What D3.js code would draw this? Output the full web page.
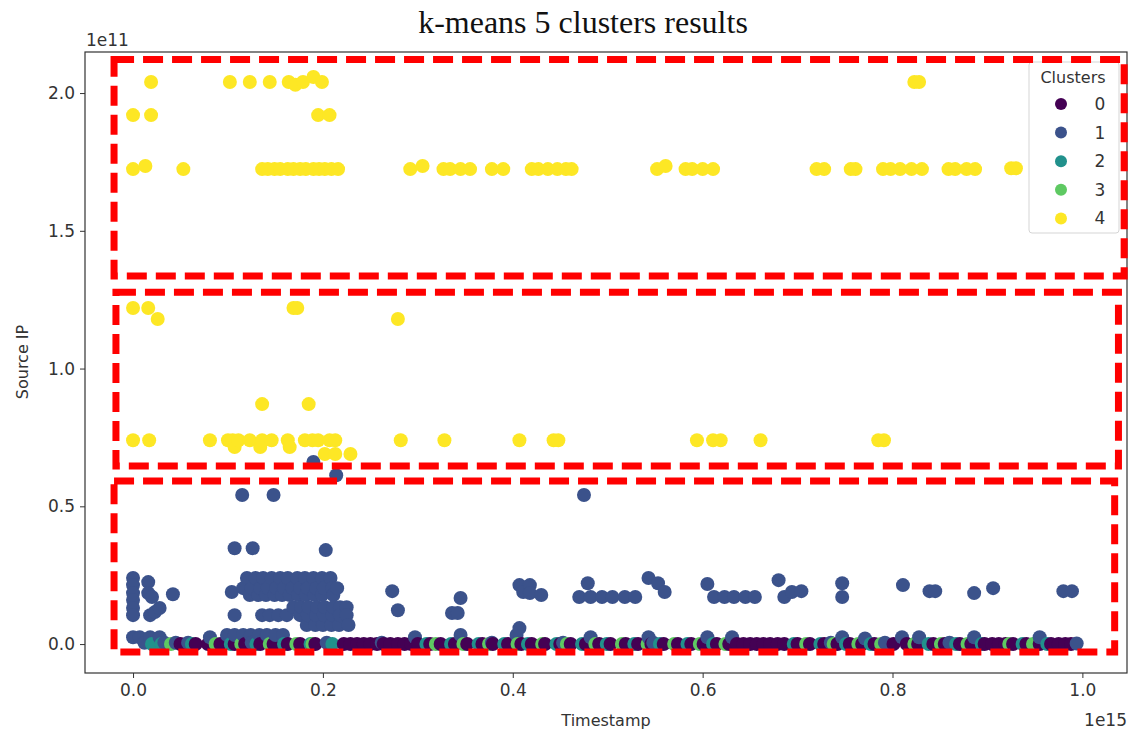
<!DOCTYPE html>
<html><head><meta charset="utf-8">
<script src="https://cdn.jsdelivr.net/npm/d3@7"></script>
<style>
body{margin:0;background:#fff;}
</style></head>
<body><svg id="chart" width="1131" height="739" font-family="DejaVu Sans, sans-serif"></svg>
<script>
// ---- data (x in units of 1e15, y in units of 1e11) ----
const clusterIds = [0, 1, 2, 3, 4];
const clusterColors = ["#440154", "#3b528b", "#21918c", "#5ec962", "#fde725"];
const xTicks = [0.0, 0.2, 0.4, 0.6, 0.8, 1.0];
const yTicks = [0.0, 0.5, 1.0, 1.5, 2.0];

const cluster4 = [
  [0.019,2.04],[0.102,2.04],[0.123,2.04],[0.144,2.04],[0.164,2.04],[0.171,2.03],[0.179,2.04],[0.19,2.058],[0.199,2.04],[0.823,2.04],[0.828,2.04],
  [0.0,1.92],[0.019,1.92],[0.195,1.92],[0.207,1.92],
  [0.0,1.724],[0.013,1.735],[0.053,1.724],[0.136,1.724],[0.142,1.724],[0.149,1.724],[0.155,1.724],[0.163,1.724],[0.169,1.724],[0.176,1.724],[0.182,1.724],[0.19,1.724],[0.196,1.724],[0.202,1.724],[0.209,1.724],[0.216,1.724],
  [0.292,1.724],[0.305,1.735],[0.327,1.724],[0.334,1.724],[0.345,1.724],[0.355,1.724],[0.378,1.724],[0.39,1.724],
  [0.42,1.724],[0.427,1.724],[0.437,1.724],[0.447,1.724],[0.456,1.724],[0.462,1.724],[0.552,1.724],[0.561,1.735],
  [0.582,1.724],[0.589,1.724],[0.6,1.724],[0.611,1.724],[0.72,1.724],[0.728,1.724],[0.756,1.724],[0.761,1.724],
  [0.79,1.724],[0.798,1.724],[0.808,1.724],[0.82,1.724],[0.831,1.724],[0.859,1.724],[0.866,1.724],[0.878,1.724],[0.887,1.724],[0.925,1.727],[0.93,1.727],
  [0.0,1.22],[0.016,1.22],[0.169,1.22],[0.173,1.22],[0.026,1.18],[0.279,1.18],
  [0.136,0.871],[0.185,0.871],
  [0.0,0.74],[0.017,0.74],[0.081,0.74],[0.1,0.74],[0.105,0.74],[0.111,0.74],[0.123,0.74],[0.136,0.74],[0.146,0.74],[0.163,0.74],[0.181,0.74],[0.189,0.74],[0.195,0.74],[0.207,0.74],[0.213,0.74],
  [0.282,0.74],[0.328,0.74],[0.407,0.74],[0.443,0.74],[0.448,0.74],[0.594,0.74],[0.611,0.74],[0.619,0.74],[0.661,0.74],[0.785,0.74],[0.791,0.74],
  [0.107,0.715],[0.134,0.715],[0.165,0.715],[0.202,0.69],[0.213,0.69],[0.229,0.69]
];

const cluster1 = [
  [0.19,0.661],[0.214,0.613],[0.115,0.541],[0.148,0.541],[0.475,0.541],[0.107,0.348],[0.126,0.348],[0.203,0.341],
  [0.0,0.24],[0.0,0.214],[0.0,0.185],[0.0,0.16],[0.0,0.131],[0.0,0.105],[0.016,0.225],[0.016,0.185],[0.02,0.171],
  [0.018,0.105],[0.023,0.116],[0.028,0.131],[0.042,0.181],[0.104,0.189],[0.107,0.105],
  [0.12,0.24],[0.129,0.24],[0.137,0.24],[0.146,0.24],[0.155,0.24],[0.163,0.24],[0.173,0.24],[0.181,0.24],[0.19,0.24],[0.199,0.24],[0.208,0.24],
  [0.116,0.203],[0.125,0.203],[0.134,0.203],[0.142,0.203],[0.151,0.203],[0.159,0.203],[0.168,0.203],[0.176,0.203],[0.184,0.203],[0.193,0.203],[0.201,0.203],[0.21,0.203],[0.215,0.203],
  [0.123,0.178],[0.132,0.178],[0.14,0.178],[0.149,0.178],[0.157,0.178],[0.165,0.178],[0.174,0.178],[0.182,0.178],[0.191,0.178],[0.199,0.178],[0.211,0.178],
  [0.169,0.134],[0.177,0.134],[0.185,0.134],[0.194,0.134],[0.202,0.134],[0.211,0.134],[0.218,0.134],[0.225,0.134],
  [0.136,0.105],[0.144,0.105],[0.153,0.105],[0.162,0.105],[0.176,0.105],[0.184,0.105],[0.193,0.105],[0.201,0.105],[0.21,0.105],[0.218,0.105],[0.225,0.105],
  [0.183,0.069],[0.192,0.069],[0.2,0.069],[0.209,0.069],[0.217,0.069],[0.227,0.069],
  [0.099,0.033],[0.107,0.033],[0.116,0.033],[0.124,0.033],[0.133,0.033],[0.141,0.033],[0.15,0.033],[0.158,0.033],
  [0.0,0.025],[0.007,0.025],[0.018,0.025],[0.028,0.025],[0.081,0.025],
  [0.273,0.192],[0.279,0.123],[0.345,0.167],[0.336,0.113],[0.342,0.113],[0.345,0.033],[0.297,0.025],
  [0.407,0.214],[0.418,0.214],[0.411,0.189],[0.418,0.185],[0.43,0.178],[0.479,0.221],
  [0.47,0.171],[0.482,0.171],[0.494,0.171],[0.505,0.171],[0.518,0.171],[0.529,0.171],
  [0.543,0.24],[0.553,0.221],[0.56,0.189],[0.605,0.218],
  [0.612,0.171],[0.623,0.171],[0.633,0.171],[0.645,0.171],[0.655,0.171],
  [0.68,0.232],[0.686,0.171],[0.694,0.189],[0.704,0.192],[0.747,0.221],[0.747,0.171],[0.811,0.214],
  [0.839,0.192],[0.845,0.192],[0.886,0.185],[0.906,0.203],[0.98,0.192],[0.989,0.192],
  [0.407,0.058],[0.404,0.033],
  [0.482,0.025],[0.543,0.025],[0.605,0.025],[0.631,0.025],[0.747,0.025],[0.771,0.02],[0.81,0.025],[0.828,0.025],[0.886,0.025],[0.955,0.025],
  [0.012,0.005],[0.033,0.005],[0.045,0.005],[0.058,0.005],[0.125,0.005],[0.204,0.005],[0.262,0.005],[0.378,0.005],[0.453,0.005],[0.548,0.005],[0.735,0.005],[0.792,0.005],[0.86,0.005],[0.994,0.002]
];

const cluster0 = [
  [0.05,0],[0.066,0],[0.079,0],[0.092,0],[0.107,0],[0.118,0],[0.134,0],[0.148,0],[0.163,0],[0.176,0],[0.192,0],
  [0.222,0],[0.229,0],[0.236,0],[0.243,0],[0.25,0],[0.257,0],[0.264,0],[0.271,0],[0.279,0],[0.286,0],[0.293,0],[0.3,0],
  [0.313,0],[0.324,0],[0.339,0],[0.352,0],[0.368,0],[0.379,0],[0.395,0],[0.409,0],[0.42,0],[0.434,0],[0.45,0],[0.461,0],
  [0.477,0],[0.491,0],[0.503,0],[0.519,0],[0.532,0],[0.546,0],[0.559,0],[0.574,0],[0.588,0],[0.601,0],[0.615,0],
  [0.628,0],[0.636,0],[0.643,0],[0.65,0],[0.657,0],[0.664,0],[0.671,0],[0.679,0],[0.686,0],[0.7,0],[0.713,0],[0.728,0],
  [0.742,0],[0.755,0],[0.768,0],[0.781,0],[0.801,0],[0.815,0],[0.827,0],[0.843,0],[0.855,0],[0.871,0],[0.883,0],
  [0.897,0],[0.905,0],[0.912,0],[0.919,0],[0.927,0],[0.941,0],[0.955,0],[0.967,0],[0.975,0],[0.982,0],[0.988,0]
];

const cluster2 = [
  [0.02,0],[0.03,0],[0.062,0],[0.103,0],[0.13,0],[0.159,0],[0.187,0],[0.21,0],[0.309,0],[0.335,0],[0.364,0],
  [0.391,0],[0.416,0],[0.446,0],[0.473,0],[0.499,0],[0.528,0],[0.555,0],[0.584,0],[0.611,0],[0.696,0],[0.724,0],
  [0.751,0],[0.777,0],[0.838,0],[0.867,0],[0.894,0],[0.937,0],[0.963,0]
];

const cluster3 = [
  [0.04,0],[0.087,0],[0.114,0],[0.144,0],[0.172,0],[0.189,0],[0.319,0],[0.348,0],[0.375,0],[0.405,0],[0.431,0],
  [0.457,0],[0.487,0],[0.515,0],[0.542,0],[0.57,0],[0.597,0],[0.624,0],[0.709,0],[0.738,0],[0.764,0],[0.788,0],
  [0.823,0],[0.851,0],[0.879,0],[0.923,0],[0.948,0]
];

// red dashed highlight boxes (annotation), in data units: [x0, x1, yTop, yBottom]
const highlightBoxes = [
  [-0.02, 1.044, 2.122, 1.336],
  [-0.018, 1.038, 1.277, 0.646],
  [-0.02, 1.034, 0.592, -0.029]
];

// ---- layout ----
const svg = d3.select("#chart");
const x = d3.scaleLinear().domain([-0.0506, 1.047]).range([85, 1127]);
const y = d3.scaleLinear().domain([-0.105, 2.149]).range([673, 52]);

const allPoints = [];
[cluster0, cluster1, cluster2, cluster3, cluster4].forEach((arr, k) => {
  arr.forEach(p => allPoints.push({x: p[0], y: p[1], c: clusterIds[k]}));
});
allPoints.sort((a, b) => a.x - b.x);

svg.append("g").selectAll("circle").data(allPoints).join("circle")
  .attr("cx", d => x(d.x)).attr("cy", d => y(d.y)).attr("r", 7)
  .attr("fill", d => clusterColors[d.c]);

// frame
svg.append("rect").attr("x", 85).attr("y", 52).attr("width", 1042).attr("height", 621)
  .attr("fill", "none").attr("stroke", "#333").attr("stroke-width", 1.2);

// axes
const xAxis = svg.append("g").attr("transform", "translate(0,673)")
  .call(d3.axisBottom(x).tickValues(xTicks).tickFormat(d3.format(".1f")).tickSizeOuter(0).tickSize(5).tickPadding(6));
const yAxis = svg.append("g").attr("transform", "translate(85,0)")
  .call(d3.axisLeft(y).tickValues(yTicks).tickFormat(d3.format(".1f")).tickSizeOuter(0).tickSize(5).tickPadding(5));
[xAxis, yAxis].forEach(g => {
  g.select(".domain").remove();
  g.selectAll(".tick line").attr("stroke", "#333");
  g.selectAll(".tick text").attr("fill", "#333").style("font-size", "17px").style("font-family", "DejaVu Sans, sans-serif");
});

// labels
svg.append("text").attr("x", 606).attr("y", 726).attr("text-anchor", "middle")
  .attr("font-size", 16).attr("fill", "#333").text("Timestamp");
svg.append("text").attr("transform", "translate(28,362) rotate(-90)").attr("text-anchor", "middle")
  .attr("font-size", 16).attr("fill", "#333").text("Source IP");
svg.append("text").attr("x", 1127).attr("y", 726).attr("text-anchor", "end")
  .attr("font-size", 17).attr("fill", "#333").text("1e15");
svg.append("text").attr("x", 86).attr("y", 46).attr("text-anchor", "start")
  .attr("font-size", 17).attr("fill", "#333").text("1e11");
svg.append("text").attr("x", 583).attr("y", 33).attr("text-anchor", "middle")
  .style("font-family", "'Liberation Serif', 'DejaVu Serif', serif").style("font-size", "32px").attr("fill", "#111")
  .text("k-means 5 clusters results");

// legend
const lg = svg.append("g");
lg.append("rect").attr("x", 1029).attr("y", 62).attr("width", 90).attr("height", 171).attr("rx", 3)
  .attr("fill", "#fff").attr("fill-opacity", 0.85).attr("stroke", "#d5d5d5");
lg.append("text").attr("x", 1073).attr("y", 83).attr("text-anchor", "middle")
  .attr("font-size", 16).attr("fill", "#333").text("Clusters");
clusterIds.forEach((c, i) => {
  const yy = 104 + i * 28.6;
  lg.append("circle").attr("cx", 1061).attr("cy", yy).attr("r", 6).attr("fill", clusterColors[i]);
  lg.append("text").attr("x", 1100).attr("y", yy + 6).attr("text-anchor", "middle")
    .attr("font-size", 17).attr("fill", "#333").text(c);
});

// red dashed highlight boxes
svg.append("g").selectAll("rect").data(highlightBoxes).join("rect")
  .attr("x", d => x(d[0])).attr("y", d => y(d[2]))
  .attr("width", d => x(d[1]) - x(d[0])).attr("height", d => y(d[3]) - y(d[2]))
  .attr("fill", "none").attr("stroke", "#ff0000").attr("stroke-width", 7)
  .attr("stroke-dasharray", "20,9");
</script></body></html>
